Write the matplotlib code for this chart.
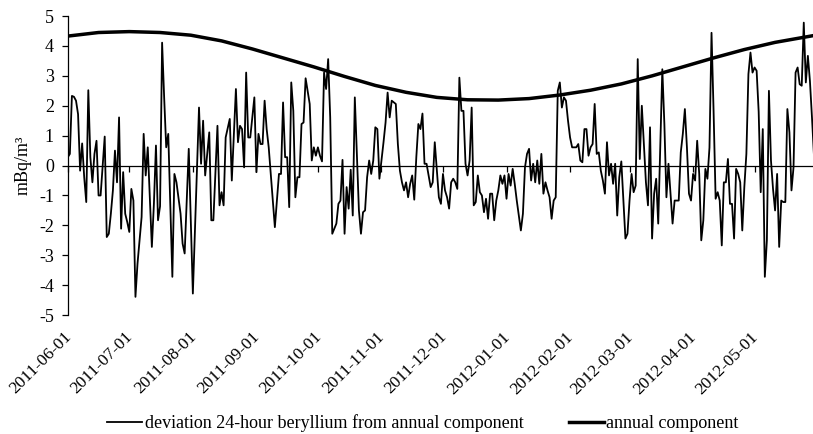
import matplotlib
matplotlib.use("Agg")
import matplotlib.dates as mdates
import matplotlib.pyplot as plt
import matplotlib.transforms as mtransforms
import numpy as np
import pandas as pd

plt.rcParams["font.family"] = ["Liberation Serif", "DejaVu Serif"]
plt.rcParams["axes.unicode_minus"] = False

start = pd.Timestamp("2011-06-01")

# daily deviation from the annual component (day offset, mBq/m3)
dev_day = [
    0, 1, 2, 3, 4, 5, 6, 7, 8, 9, 10, 11, 12, 13, 14, 15, 16, 18, 19, 20,
    21, 22, 23, 24, 25, 26, 27, 28, 29, 30, 31, 32, 33, 34, 36, 37, 38, 39, 40, 41,
    42, 43, 44, 45, 46, 47, 48, 49, 50, 51, 52, 53, 55, 56, 57, 59, 61, 64, 65, 66,
    67, 69, 70, 71, 73, 74, 75, 76, 77, 79, 80, 82, 83, 84, 85, 86, 87, 88, 89, 91,
    92, 93, 94, 95, 96, 97, 98, 100, 101, 103, 104, 105, 106, 107, 108, 109, 110, 111, 112, 113,
    114, 115, 116, 118, 119, 120, 121, 122, 123, 124, 125, 126, 127, 128, 129, 131, 132, 133, 134, 135,
    136, 137, 138, 139, 140, 142, 143, 144, 145, 146, 147, 148, 149, 150, 151, 152, 154, 155, 156, 157,
    158, 160, 161, 162, 163, 164, 165, 166, 167, 168, 169, 170, 171, 172, 173, 174, 175, 176, 177, 178,
    179, 181, 182, 183, 184, 185, 186, 187, 188, 189, 190, 191, 192, 193, 194, 195, 196, 197, 198, 199,
    200, 201, 202, 203, 204, 205, 206, 207, 208, 209, 210, 211, 212, 213, 214, 215, 216, 217, 218, 219,
    220, 221, 222, 223, 224, 225, 226, 227, 228, 229, 230, 231, 232, 233, 234, 235, 236, 237, 238, 239,
    240, 241, 242, 243, 244, 245, 246, 248, 249, 250, 251, 252, 253, 254, 255, 256, 257, 258, 259, 260,
    261, 262, 263, 264, 265, 266, 267, 268, 269, 270, 271, 272, 273, 274, 275, 276, 277, 278, 279, 280,
    281, 282, 283, 284, 285, 286, 287, 288, 290, 291, 292, 293, 294, 295, 296, 297, 298, 299, 300, 301,
    302, 303, 304, 305, 306, 307, 308, 309, 310, 311, 312, 313, 314, 315, 316, 317, 318, 319, 320, 321,
    322, 323, 324, 325, 326, 327, 328, 329, 330, 331, 332, 333, 334, 335, 336, 337, 338, 339, 340, 341,
    342, 343, 344, 345, 346, 347, 348, 349, 350, 351, 352, 353, 354, 355, 356, 357, 358, 359, 360, 361,
    362, 363, 364,
]
dev_val = [
    0.28, 0.39, 2.33, 2.3, 2.17, 1.72, -0.17, 0.74, -0.39, -1.22, 2.52, 0.28, -0.56, 0.39, 0.83, -1.0, -1.0, 0.97, -2.39, -2.28,
    -1.61, -0.83, 0.5, -0.56, 1.61, -2.11, -0.22, -1.61, -1.89, -2.22, -0.78, -1.17, -4.39, -3.28, -1.72, 1.06, -0.33, 0.61, -1.06, -2.72,
    -1.28, 0.67, -1.83, -1.36, 4.11, 2.28, 0.61, 1.06, -1.33, -3.72, -0.28, -0.56, -1.61, -2.61, -2.94, 0.56, -4.28, 1.94, 0.06, 1.5,
    -0.33, 1.11, -1.83, -1.83, 1.33, -1.33, -0.89, -1.33, 0.94, 1.56, -0.5, 2.56, 0.78, 1.33, 1.22, -0.06, 3.11, 0.94, 0.94, 2.28,
    -0.22, 1.06, 0.72, 0.72, 2.17, 1.22, 0.61, -1.17, -2.06, -0.28, -0.28, 2.11, 0.28, 0.28, -1.39, 2.78, 1.83, -1.06, -0.39, -0.39,
    1.39, 1.44, 2.92, 2.06, 0.17, 0.61, 0.33, 0.61, 0.33, 0.14, 3.11, 2.56, 3.56, 1.61, -2.28, -1.94, -1.28, -1.17, 0.19, -2.28,
    -0.72, -1.44, -0.14, -1.67, 2.28, -1.5, -2.28, -1.56, -1.5, -0.39, 0.17, -0.28, 0.17, 1.28, 1.22, -0.44, 0.78, 1.44, 2.44, 1.61,
    2.17, 2.06, 0.72, -0.17, -0.56, -0.83, -0.56, -1.06, -0.61, -0.33, -1.14, 0.28, 1.39, 1.22, 1.74, 0.06, 0.06, -0.33, -0.72, -0.56,
    0.78, -1.06, -1.28, -0.28, -0.83, -1.06, -1.44, -0.56, -0.44, -0.56, -0.78, 2.94, 1.83, 1.83, 0.06, -0.33, 0.17, 1.94, -1.33, -1.22,
    -0.33, -0.89, -1.0, -1.56, -1.11, -1.78, -0.94, -0.94, -1.83, -1.17, -0.83, -0.33, -0.61, -0.33, -1.11, -0.28, -0.67, -0.11, -0.61, -1.17,
    -1.67, -2.17, -1.61, -0.06, 0.39, 0.56, -0.5, 0.06, -0.56, 0.17, -0.61, 0.39, -0.94, -0.56, -0.83, -1.06, -1.78, -1.17, -1.06, 2.5,
    2.78, 1.94, 2.28, 2.17, 1.5, 0.94, 0.61, 0.61, 0.72, 0.17, 0.11, 1.22, 1.22, 0.33, 0.61, 0.72, 2.06, 0.39, 0.44, -0.17,
    -0.5, -0.94, 0.78, -0.33, 0.06, -0.61, 0.06, -1.67, -0.39, 0.14, -1.17, -2.44, -2.28, -1.17, -0.28, -0.89, -0.67, 3.56, 0.22, 2.0,
    0.72, -0.56, -1.33, 1.28, -2.44, -0.94, -0.44, -1.94, 3.22, 1.39, -1.06, 0.06, -0.94, -1.94, -1.17, -1.17, -1.17, 0.44, 1.06, 1.89,
    0.61, -0.94, -1.17, -0.28, -0.5, 0.83, -0.28, -2.5, -1.83, -0.11, -0.44, 0.6, 4.44, 1.83, -1.11, -0.89, -1.17, -2.67, -0.56, -0.56,
    0.22, -1.28, -1.28, -2.44, -0.11, -0.28, -0.56, -2.17, -0.72, 0.39, 3.06, 3.78, 3.11, 3.28, 3.17, 1.8, -0.89, 1.22, -3.72, -2.5,
    2.5, 0.17, -0.78, -1.5, -0.28, -2.72, -1.17, -1.22, -1.22, 1.89, 1.11, -0.83, -0.06, 3.11, 3.28, 2.72, 2.67, 4.78, 2.78, 3.67,
    2.83, 1.61, 0.3,
]

# annual component, read at roughly two-week steps
annual_day = [0, 15, 30, 45, 60, 75, 90, 105, 120, 135, 150, 165, 180, 195, 210, 225,
              240, 255, 270, 285, 300, 315, 330, 345, 364]
annual_val = [4.33, 4.45, 4.48, 4.45, 4.36, 4.17, 3.9, 3.6, 3.3, 2.98, 2.68, 2.45, 2.28, 2.2, 2.19, 2.24,
              2.36, 2.52, 2.73, 3.0, 3.3, 3.6, 3.88, 4.12, 4.35]

dev_dates = start + pd.to_timedelta(dev_day, unit="D")
annual_dates = start + pd.to_timedelta(annual_day, unit="D")

fig = plt.figure(figsize=(8.13, 4.34), dpi=100)
ax = fig.add_axes([0.0834, 0.274, 0.9166, 0.689])

ax.plot(dev_dates, dev_val, color="black", lw=1.3,
        label="deviation 24-hour beryllium from annual component")
ax.plot(annual_dates, annual_val, color="black", lw=2.5, label="annual component")

x0 = mdates.date2num(start)
ax.set_xlim(x0, x0 + 363.5)
ax.set_ylim(-5, 5)
ax.set_yticks(np.arange(-5, 6, 1))

for s in ["top", "right", "bottom"]:
    ax.spines[s].set_visible(False)
ax.spines["left"].set_linewidth(0.9)

ax.xaxis.set_major_locator(mdates.MonthLocator())
ax.xaxis.set_major_formatter(mdates.DateFormatter("%Y-%m-%d"))
ax.tick_params(axis="x", length=0, pad=14, labelsize=12.5)
ax.tick_params(axis="y", direction="out", length=4, width=0.9, pad=6, labelsize=13)
offset = mtransforms.ScaledTranslation(0.01, 0, fig.dpi_scale_trans)
for lbl in ax.get_xticklabels():
    lbl.set_rotation(45)
    lbl.set_ha("right")
    lbl.set_va("center")
    lbl.set_rotation_mode("anchor")
    lbl.set_transform(lbl.get_transform() + offset)

# zero line with month ticks
sec = ax.secondary_xaxis(0.5)
sec.xaxis.set_major_locator(mdates.MonthLocator())
sec.tick_params(axis="x", direction="in", length=4, width=0.9, labeltop=False, labelbottom=False)
for sp in sec.spines.values():
    sp.set_linewidth(0.9)

ax.set_ylabel("mBq/m³", fontsize=13)
ax.yaxis.set_label_coords(-0.048, 0.5)

fig.legend(loc="center", bbox_to_anchor=(0.52, 0.025), ncol=2, frameon=False,
           fontsize=13, handlelength=1.95, handletextpad=0.15, columnspacing=2.5)

fig.savefig("out.png", dpi=100)
